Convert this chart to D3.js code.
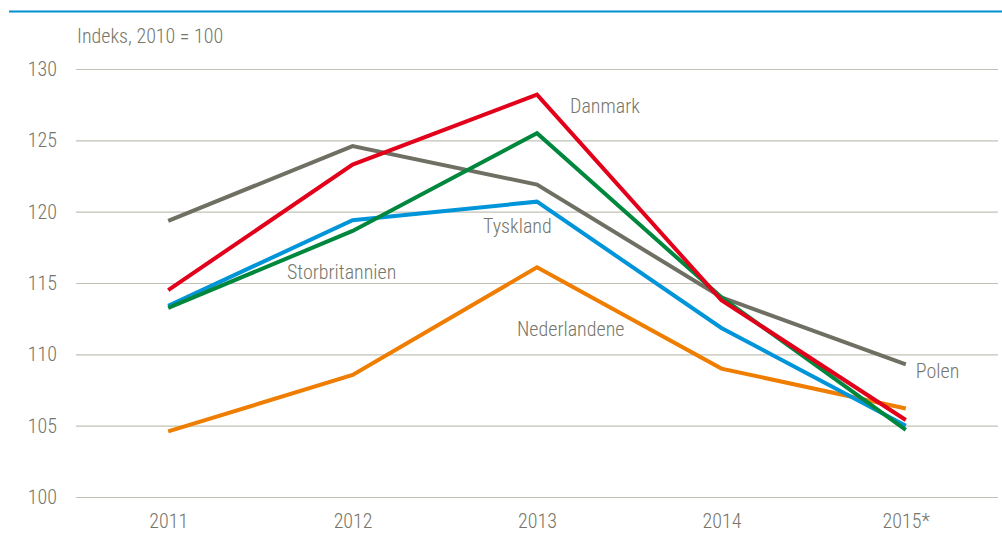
<!DOCTYPE html>
<html><head><meta charset="utf-8">
<script src="https://cdn.jsdelivr.net/npm/d3@7"></script>
<style>
body{margin:0;background:#fff;}
svg text{font-family:"Liberation Sans Narrow","Arial Narrow","Roboto Condensed","Liberation Sans",sans-serif;font-weight:300;}
</style></head>
<body><svg id="c" width="1002" height="539"></svg>
<script>
const years = ["2011","2012","2013","2014","2015*"];
const yTicks = [100,105,110,115,120,125,130];
const polen = [119.35,124.6,121.9,114.0,109.3];
const danmark = [114.5,123.3,128.2,113.8,105.4];
const storbritannien = [113.25,118.65,125.5,114.0,104.7];
const tyskland = [113.4,119.4,120.7,111.85,105.0];
const nederlandene = [104.6,108.55,116.1,109.0,106.2];
const seriesNames = ["Polen","Nederlandene","Tyskland","Storbritannien","Danmark"];
const seriesValues = [polen,nederlandene,tyskland,storbritannien,danmark];
const colors = ["#6f6f63","#ef7d00","#0095d9","#00873e","#e2001a"];
const labels = [
  {name:"Danmark", year:"2013", v:127.35, dx:33},
  {name:"Tyskland", year:"2013", v:118.9, dx:-54},
  {name:"Storbritannien", year:"2012", v:115.68, dx:-65.6},
  {name:"Nederlandene", year:"2013", v:111.7, dx:-20},
  {name:"Polen", year:"2015*", v:108.75, dx:10}
];

(function(){
const svg = d3.select("#c");
const mLeft = 76, mRight = 998, mTop = 69, mBottom = 497;
const x = d3.scalePoint().domain(years).range([mLeft,mRight]).padding(0.5);
const y = d3.scaleLinear().domain([100,130]).range([mBottom,mTop]);
const txt = "#76766a";
const fs = 20;

svg.append("line").attr("x1",9).attr("x2",1002).attr("y1",11.5).attr("y2",11.5)
  .attr("stroke","#0090d0").attr("stroke-width",2);

svg.append("text").attr("x",77).attr("y",43).attr("fill",txt).attr("font-size",fs)
  .text("Indeks, 2010 = 100");

const yAxis = d3.axisLeft(y).tickValues(yTicks).tickSize(-(mRight-mLeft)).tickPadding(19);
const gy = svg.append("g").attr("transform",`translate(${mLeft},0)`).call(yAxis);
gy.select(".domain").remove();
gy.selectAll(".tick line").attr("stroke","#c2c2b5").attr("stroke-width",1.2);
gy.selectAll(".tick text").attr("fill",txt).attr("font-size",fs);

const xAxis = d3.axisBottom(x).tickSize(0).tickPadding(17);
const gx = svg.append("g").attr("transform",`translate(0,${mBottom})`).call(xAxis);
gx.select(".domain").remove();
gx.selectAll(".tick text").attr("fill",txt).attr("font-size",fs);

const line = d3.line().x((d,i)=>x(years[i])).y(d=>y(d));
seriesValues.forEach((vals,k)=>{
  svg.append("path").attr("d",line(vals)).attr("fill","none")
    .attr("stroke",colors[k]).attr("stroke-width",4).attr("stroke-linejoin","miter");
});

labels.forEach(l=>{
  svg.append("text").attr("x",x(l.year)+l.dx).attr("y",y(l.v)+6)
    .attr("fill",txt).attr("font-size",fs).text(l.name);
});
})();
</script></body></html>
